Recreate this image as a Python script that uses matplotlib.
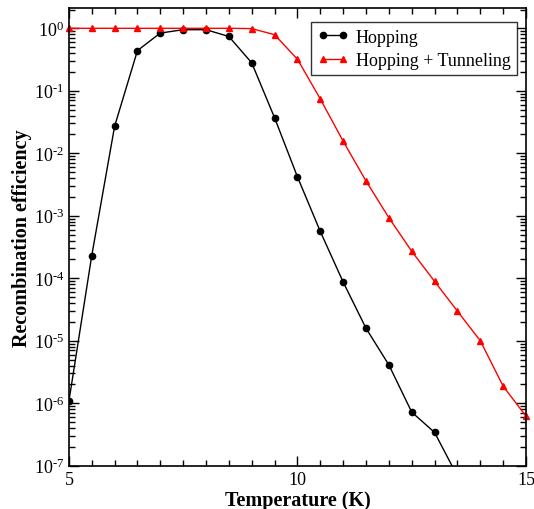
import numpy as np
import matplotlib
matplotlib.use("Agg")
import matplotlib.pyplot as plt
from matplotlib.ticker import LogLocator, MultipleLocator, NullFormatter, FuncFormatter, FixedLocator

plt.rcParams["font.family"] = ["Liberation Serif", "DejaVu Serif"]
plt.rcParams["mathtext.fontset"] = "custom"
plt.rcParams["mathtext.rm"] = "Liberation Serif"
plt.rcParams["mathtext.it"] = "Liberation Serif:italic"
plt.rcParams["mathtext.bf"] = "Liberation Serif:bold"

# temperature (K)
temp = [5.0, 5.5, 6.0, 6.5, 7.0, 7.5, 8.0, 8.5, 9.0, 9.5, 10.0,
        10.5, 11.0, 11.5, 12.0, 12.5, 13.0, 13.5, 14.0, 14.5, 15.0]

hopping = [1.07e-6, 2.3e-4, 0.027, 0.44, 0.84, 0.95, 0.95, 0.74, 0.28, 0.037, 4.2e-3,
           5.6e-4, 8.7e-5, 1.58e-5, 4.1e-6, 7.2e-7, 3.4e-7, 6.8e-8, 1.4e-8, 3e-9, 6e-10]

tunneling = [1.0, 1.0, 1.0, 1.0, 1.0, 1.0, 1.0, 1.0, 0.99, 0.79, 0.32,
             0.074, 0.0156, 3.6e-3, 9.3e-4, 2.7e-4, 8.9e-5, 2.97e-5, 1.0e-5, 1.87e-6, 6.2e-7]

decades = [-7, -6, -5, -4, -3, -2, -1, 0]


def pow10(v, pos):
    n = int(round(np.log10(v)))
    if n < 0:
        return r"$10^{\text{-}%d}$" % (-n)
    return r"$10^{%d}$" % n


fig = plt.figure(figsize=(5.34, 5.10), dpi=100)
ax = fig.add_axes([0.129, 0.085, 0.856, 0.897])

ax.plot(temp, hopping, color="black", marker="o", markersize=4.5, lw=1.0,
        label="Hopping")
ax.plot(temp, tunneling, color="red", marker="^", markersize=5, lw=1.0,
        label="Hopping + Tunneling", clip_on=False)

ax.set_yscale("log")
ax.set_xlim(5, 15)
ax.set_ylim(1e-7, 2.1)

ax.xaxis.set_major_locator(MultipleLocator(5))
ax.xaxis.set_minor_locator(MultipleLocator(0.5))
ax.yaxis.set_major_locator(FixedLocator([10.0 ** d for d in decades]))
ax.yaxis.set_major_formatter(FuncFormatter(pow10))
ax.yaxis.set_minor_locator(LogLocator(base=10, subs=np.arange(2, 10), numticks=20))
ax.yaxis.set_minor_formatter(NullFormatter())

ax.tick_params(which="both", direction="in", top=True, right=True, labelsize=13)
ax.tick_params(which="major", length=7, width=1.0)
ax.tick_params(which="minor", length=4, width=1.0)
for s in ax.spines.values():
    s.set_linewidth(1.2)

ax.set_xlabel("Temperature (K)", fontsize=14.5, fontweight="bold", labelpad=2)
ax.set_ylabel("Recombination efficiency", fontsize=14.5, fontweight="bold", labelpad=1)

leg = ax.legend(loc="upper right", bbox_to_anchor=(0.98, 0.969), borderaxespad=0,
                fontsize=13, frameon=True, fancybox=False, numpoints=2,
                edgecolor="black", borderpad=0.35, handlelength=1.7,
                handletextpad=0.4, labelspacing=0.35)
leg.get_frame().set_linewidth(1.0)

fig.savefig("out.png", dpi=100)
